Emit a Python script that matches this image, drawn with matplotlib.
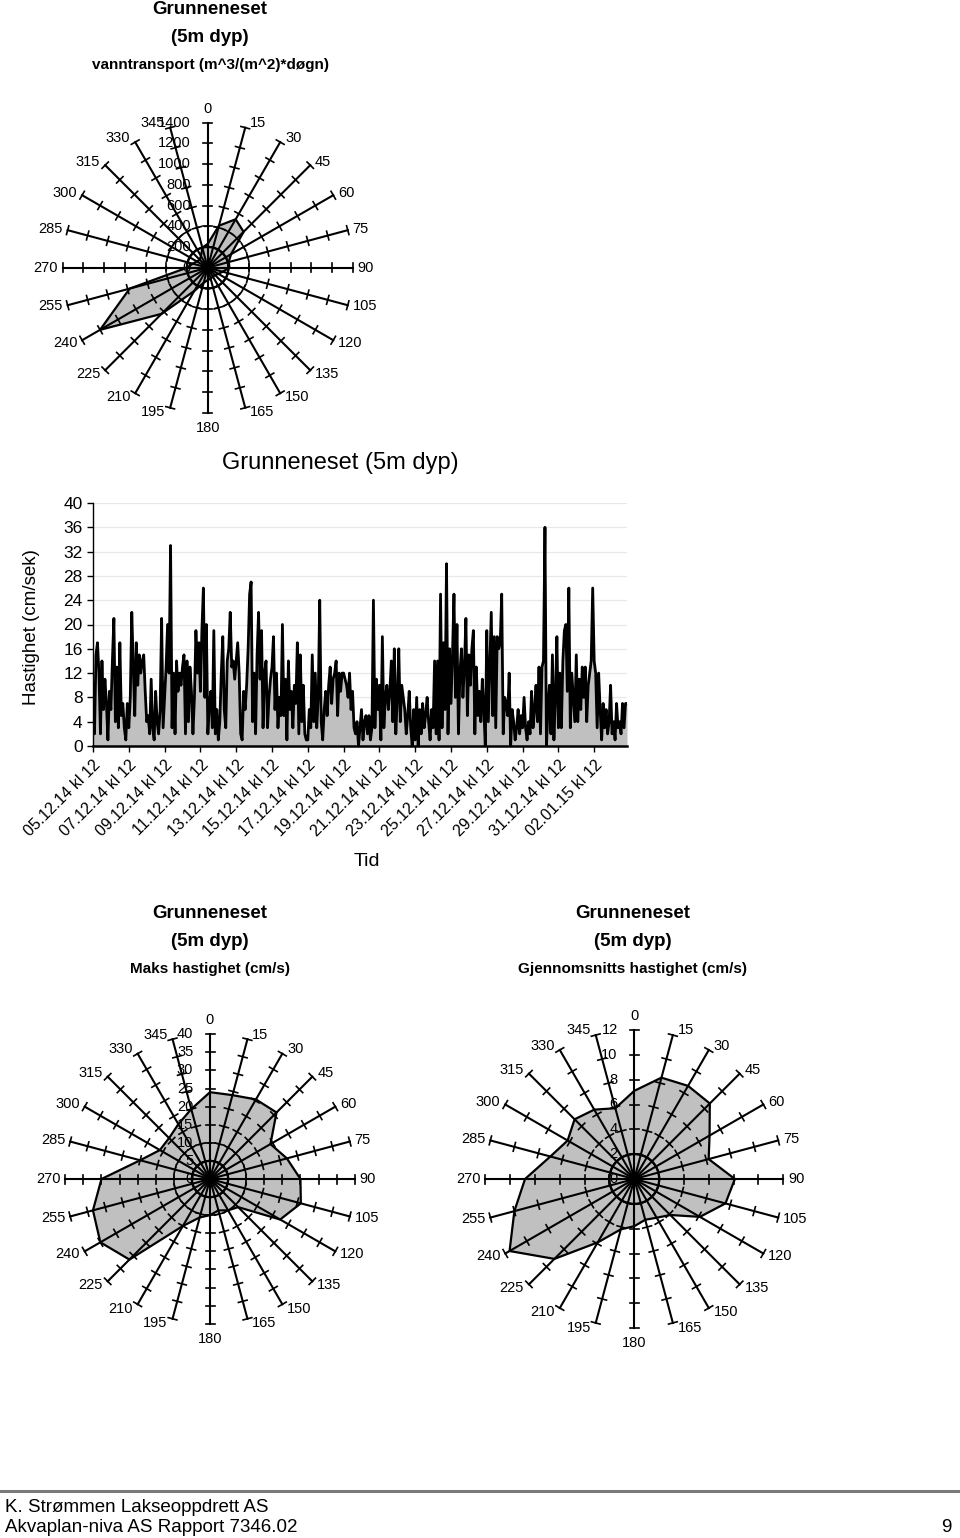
import numpy as np
import matplotlib
matplotlib.use("Agg")
import matplotlib.pyplot as plt
from matplotlib.lines import Line2D

plt.rcParams['font.family'] = ['Liberation Sans', 'DejaVu Sans']

W, H = 960, 1538

# --- data -------------------------------------------------------------
directions = list(range(0, 360, 15))

# vanntransport (m^3/(m^2)*døgn) per direction
transport = [230, 420, 540, 490, 260, 210, 210, 150, 120, 100, 100, 110,
             120, 150, 260, 630, 1200, 780, 200, 150, 120, 110, 130, 200]

# maks hastighet (cm/s) per direction
max_speed = [24, 24, 25.4, 26, 19.3, 22, 25, 26, 22.4, 11, 10, 9,
             10, 11, 15, 31.5, 35, 33.5, 30, 20, 16, 16, 17.5, 20]

# gjennomsnitts hastighet (cm/s) per direction
mean_speed = [7.1, 8.45, 8.66, 8.6, 7.0, 6.2, 8.1, 7.6, 6.1, 4.1, 3.6, 3.4,
              3.8, 4.2, 5.9, 9.1, 11.6, 10.0, 8.8, 7.0, 6.2, 6.8, 6.45, 5.9]

# hastighet (cm/sek), one reading every 2 hours from 05.12.14 kl 12
step_hours = 2
speed = [
    10, 2, 15, 17, 12, 2, 14, 6, 11, 7, 1, 9, 6, 14, 21, 4, 13, 3, 17, 5, 7, 3, 1, 7,
    3, 8, 22, 13, 5, 17, 10, 15, 12, 14, 15, 9, 4, 5, 2, 11, 3, 1, 9, 4, 2, 6, 21, 3,
    8, 13, 20, 12, 33, 3, 12, 2, 14, 9, 12, 10, 13, 15, 2, 14, 4, 13, 9, 2, 8, 19, 12, 17,
    9, 19, 26, 8, 20, 2, 7, 9, 3, 19, 2, 6, 1, 4, 12, 18, 6, 3, 14, 16, 22, 13, 14, 11,
    14, 17, 12, 2, 1, 9, 6, 10, 16, 25, 27, 4, 12, 2, 15, 22, 11, 19, 3, 12, 14, 3, 8, 11,
    13, 18, 6, 12, 3, 8, 5, 20, 5, 11, 1, 14, 6, 9, 3, 10, 7, 17, 2, 15, 4, 10, 2, 1,
    1, 6, 3, 15, 4, 12, 3, 8, 24, 4, 1, 6, 9, 5, 10, 13, 7, 11, 12, 14, 5, 12, 9, 12,
    12, 11, 10, 8, 12, 6, 9, 3, 2, 4, 0, 3, 6, 1, 4, 5, 2, 5, 1, 3, 24, 3, 11, 6,
    10, 1, 18, 3, 8, 10, 6, 9, 14, 4, 16, 2, 8, 16, 4, 10, 8, 6, 2, 5, 9, 3, 0, 6,
    1, 8, 0, 6, 2, 7, 3, 5, 8, 4, 1, 6, 3, 14, 2, 14, 1, 25, 3, 17, 6, 30, 2, 16,
    7, 15, 25, 8, 20, 2, 12, 16, 8, 13, 21, 5, 15, 10, 16, 19, 2, 13, 5, 9, 4, 11, 6, 0,
    19, 4, 13, 22, 5, 18, 3, 18, 16, 17, 25, 2, 8, 7, 5, 12, 0, 6, 4, 1, 3, 6, 2, 5,
    3, 8, 3, 1, 4, 2, 9, 3, 6, 10, 4, 13, 2, 13, 14, 36, 0, 6, 10, 2, 15, 1, 8, 18,
    3, 12, 3, 14, 19, 20, 9, 26, 3, 12, 8, 4, 15, 4, 11, 6, 13, 8, 13, 4, 10, 12, 14, 26,
    14, 12, 3, 12, 6, 1, 7, 3, 6, 2, 4, 10, 2, 4, 1, 7, 3, 4, 2, 7, 3, 7, 7,
]

date_labels = ['05.12.14 kl 12', '07.12.14 kl 12', '09.12.14 kl 12', '11.12.14 kl 12',
               '13.12.14 kl 12', '15.12.14 kl 12', '17.12.14 kl 12', '19.12.14 kl 12',
               '21.12.14 kl 12', '23.12.14 kl 12', '25.12.14 kl 12', '27.12.14 kl 12',
               '29.12.14 kl 12', '31.12.14 kl 12', '02.01.15 kl 12']


def px_axes(fig, x0, y0, w, h):
    # rectangle given in pixels from the top-left corner
    return fig.add_axes([x0 / W, 1 - (y0 + h) / H, w / W, h / H])


def radar(fig, cx, cy, R, vals, vmax, vstep, dashed=True):
    half = 210
    ax = px_axes(fig, cx - half, cy - half, 2 * half, 2 * half)
    lim = vmax * half / R
    ax.set_xlim(-lim, lim)
    ax.set_ylim(-lim, lim)
    ax.axis('off')
    u = vmax / R  # data units per pixel

    th = np.deg2rad(directions)
    v = np.array(vals, dtype=float)
    ax.fill(v * np.sin(th), v * np.cos(th), facecolor='#c0c0c0',
            edgecolor='black', lw=1.6, zorder=1)

    t = np.linspace(0, 2 * np.pi, 300)
    ax.plot(vstep * np.cos(t), vstep * np.sin(t), color='black', lw=1.6, zorder=2)
    if dashed:
        ax.plot(2 * vstep * np.cos(t), 2 * vstep * np.sin(t), color='black',
                lw=1.1, ls=(0, (3, 3)), zorder=2)

    ticks = np.arange(vstep, vmax + vstep / 2, vstep)
    tl = 4.5 * u
    for d, a in zip(directions, th):
        s, c = np.sin(a), np.cos(a)
        ax.plot([0, vmax * s], [0, vmax * c], color='black', lw=1.5, zorder=3)
        for tv in ticks:
            px, py = tv * s, tv * c
            ax.plot([px - tl * c, px + tl * c], [py + tl * s, py - tl * s],
                    color='black', lw=1.2, zorder=3)
        ex, ey = vmax * s, vmax * c
        if d == 0:
            ax.annotate(str(d), (ex, ey), xytext=(0, 5), textcoords='offset points',
                        ha='center', va='bottom', fontsize=10.5)
        elif d == 180:
            ax.annotate(str(d), (ex, ey), xytext=(0, -6), textcoords='offset points',
                        ha='center', va='top', fontsize=10.5)
        elif d < 180:
            ax.annotate(str(d), (ex, ey), xytext=(3.5, 3.5 * c), textcoords='offset points',
                        ha='left', va='center', fontsize=10.5)
        else:
            ax.annotate(str(d), (ex, ey), xytext=(-3.5, 3.5 * c), textcoords='offset points',
                        ha='right', va='center', fontsize=10.5)

    for tv in np.concatenate([[0], ticks]):
        ax.annotate('%g' % tv, (0, tv), xytext=(-12, 0), textcoords='offset points',
                    ha='right', va='center', fontsize=10.5, zorder=4)
    return ax


def titles(fig, x, y, lines, sizes):
    for i, (txt, fs) in enumerate(zip(lines, sizes)):
        fig.text(x / W, 1 - (y + 27.5 * i) / H, txt, ha='center', va='center',
                 fontsize=fs, fontweight='bold')


fig = plt.figure(figsize=(W / 100, H / 100), dpi=100)

# --- top radar: vanntransport ----------------------------------------
titles(fig, 210, 10, ['Grunneneset', '(5m dyp)', 'vanntransport (m^3/(m^2)*døgn)'],
       [13.5, 13.5, 11])
radar(fig, 207.7, 267.7, 145, transport, 1400, 200, dashed=True)

# --- time series -----------------------------------------------------
ax = px_axes(fig, 93, 503, 534, 243)
hours = np.arange(len(speed)) * step_hours
ax.fill_between(hours, speed, color='#c0c0c0', lw=0, zorder=2)
ax.plot(hours, speed, color='black', lw=2.0, zorder=3)
ax.set_xlim(0, hours[-1])
ax.set_ylim(0, 40)
ax.set_yticks(range(0, 41, 4))
ax.tick_params(axis='y', labelsize=12.5, length=4, width=1)
ax.grid(axis='y', color='#e8e8e8', lw=0.9, zorder=0)
ax.set_xticks(np.arange(len(date_labels)) * 48)
ax.set_xticklabels(date_labels, rotation=45, ha='right', va='top',
                   rotation_mode='anchor', fontsize=11.5)
ax.tick_params(axis='x', length=4, width=1, pad=4)
for sp in ['top', 'right']:
    ax.spines[sp].set_visible(False)
ax.spines['left'].set_linewidth(1.0)
ax.spines['bottom'].set_linewidth(1.8)
ax.set_axisbelow(True)

fig.text(340 / W, 1 - 463 / H, 'Grunneneset (5m dyp)', ha='center', va='center', fontsize=17)
fig.text(32 / W, 1 - 627 / H, 'Hastighet (cm/sek)', ha='center', va='center',
         rotation=90, fontsize=13.5)
fig.text(367 / W, 1 - 862 / H, 'Tid', ha='center', va='center', fontsize=14)

# --- bottom radars ---------------------------------------------------
titles(fig, 210, 914, ['Grunneneset', '(5m dyp)', 'Maks hastighet (cm/s)'], [13.5, 13.5, 11])
radar(fig, 210, 1179, 144.7, max_speed, 40, 5, dashed=True)

titles(fig, 633, 914, ['Grunneneset', '(5m dyp)', 'Gjennomsnitts hastighet (cm/s)'],
       [13.5, 13.5, 11])
radar(fig, 634.3, 1179, 149, mean_speed, 12, 2, dashed=False)

# --- footer ----------------------------------------------------------
fig.add_artist(Line2D([0, 958 / W], [1 - 1491 / H] * 2, color='#7a7a7a', lw=2.2))
foot = ['Liberation Sans Narrow', 'Liberation Sans', 'DejaVu Sans']
fig.text(5 / W, 1 - 1507 / H, 'K. Strømmen Lakseoppdrett AS', ha='left', va='center',
         fontsize=13.5, family=foot)
fig.text(5 / W, 1 - 1527 / H, 'Akvaplan-niva AS Rapport 7346.02', ha='left', va='center',
         fontsize=13.5, family=foot)
fig.text(952 / W, 1 - 1527 / H, '9', ha='right', va='center', fontsize=13.5, family=foot)

fig.savefig('out.png', dpi=100, facecolor='white')
